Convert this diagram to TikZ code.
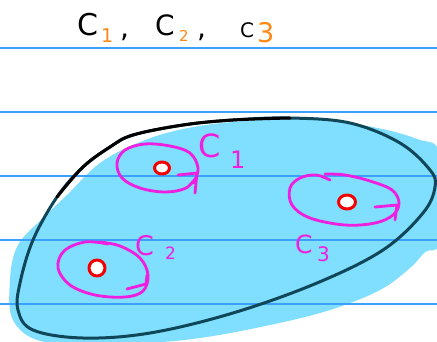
\documentclass[tikz,border=0pt]{standalone}
\usepackage{fontspec}
\setmainfont{DejaVu Sans}
\definecolor{ruleblue}{RGB}{60,160,255}
\definecolor{blobfill}{RGB}{128,222,255}
\definecolor{blobedge}{RGB}{15,70,88}
\definecolor{pinkc}{RGB}{240,30,225}
\definecolor{redc}{RGB}{245,0,0}
\definecolor{orangec}{RGB}{255,135,20}
\begin{document}
\begin{tikzpicture}[x=1pt,y=-1pt, line cap=round, line join=round,
  rulestyle/.style={draw=ruleblue, line width=1.3pt},
  loopstyle/.style={draw=pinkc, line width=2.8pt},
  dotstyle/.style={draw=redc, fill=white, line width=3pt},
  txt/.style={inner sep=0pt, anchor=base west},
  fs/.style={font=\fontsize{#1}{#1}\selectfont}]
\useasboundingbox (0,0) rectangle (437,341);
\fill[white] (0,0) rectangle (437,341);
% highlighter blob
\fill[blobfill] plot[smooth cycle, tension=0.6] coordinates {
  (300,119) (367,126) (417,139) (440,155) (440,240) (425,252) (410,268)
  (380,290) (330,310) (270,325) (200,338) (140,343) (50,343) (14,322)
  (10,280) (18,245) (43,218) (67,195) (100,163) (140,142) (183,129) (233,122)};
% ruled lines
\foreach \yy in {48,112,176,240,304} \draw[rulestyle] (0,\yy) -- (437,\yy);
% outline
\draw[blobedge, line width=3pt] plot[smooth cycle, tension=0.6] coordinates {
  (110,147) (133,135) (183,125) (233,120) (290,118) (350,123) (400,143)
  (430,170) (435,187) (423,213) (383,250) (317,283) (233,313) (150,333)
  (83,338) (33,330) (18,310) (20,283) (33,240) (57,197) (83,167)};
\draw[black, line width=3pt] plot[smooth, tension=0.6] coordinates {
  (57,197) (83,167) (110,147) (133,135) (183,125) (233,120) (290,118)};
% loop C1
\draw[loopstyle] plot[smooth, tension=0.6] coordinates {
  (194,183) (198,168) (190,153) (170,146) (145,144) (125,150) (117,163)
  (122,178) (140,188) (165,192) (186,188) (197,176)};
\draw[loopstyle] (178,175) -- (197,173) -- (195,193);
% loop C2
\draw[loopstyle] plot[smooth, tension=0.6] coordinates {
  (108,244) (85,242) (64,251) (58,268) (70,285) (95,295) (125,297)
  (143,291) (148,275) (140,258) (120,246) (100,242)};
\draw[loopstyle] (127,289) -- (146,284) -- (147,275);
% loop C3
\draw[loopstyle] plot[smooth, tension=0.6] coordinates {
  (330,180) (316,175) (300,178) (290,188) (292,205) (310,218) (345,225)
  (375,223) (393,215) (399,203) (392,190) (370,181) (345,175) (325,174)};
\draw[loopstyle] (375,207) -- (397,205) -- (395,220);
% points
\draw[dotstyle] (162,168) ellipse [x radius=7.5pt, y radius=6pt];
\draw[dotstyle] (97,268) ellipse [x radius=8pt, y radius=8pt];
\draw[dotstyle] (347,202) ellipse [x radius=8.5pt, y radius=7pt];
% labels of loops
\node[txt, fs=32, text=pinkc] (l1c) at (198,157) {C};
\node[txt, fs=24, text=pinkc] (l1n) at (230,168) {1};
\node[txt, fs=27, text=pinkc] (l2c) at (135,255) {C};
\node[txt, fs=17, text=pinkc] (l2n) at (165,259) {2};
\node[txt, fs=25, text=pinkc] (l3c) at (295,253) {C};
\node[txt, fs=20, text=pinkc] (l3n) at (317,261) {3};
% title
\node[txt, fs=30] (t1c) at (77,35) {C};
\node[txt, fs=19, text=orangec] (t1n) at (101,42) {1};
\node[txt, fs=28] (tk1) at (120,37) {,};
\node[txt, fs=28] (t2c) at (155,35) {C};
\node[txt, fs=15, text=orangec] (t2n) at (179,41) {2};
\node[txt, fs=28] (tk2) at (197,37) {,};
\node[txt, fs=20] (t3c) at (240,37) {C};
\node[txt, fs=27, text=orangec] (t3n) at (257,42) {3};
\end{tikzpicture}
\end{document}
